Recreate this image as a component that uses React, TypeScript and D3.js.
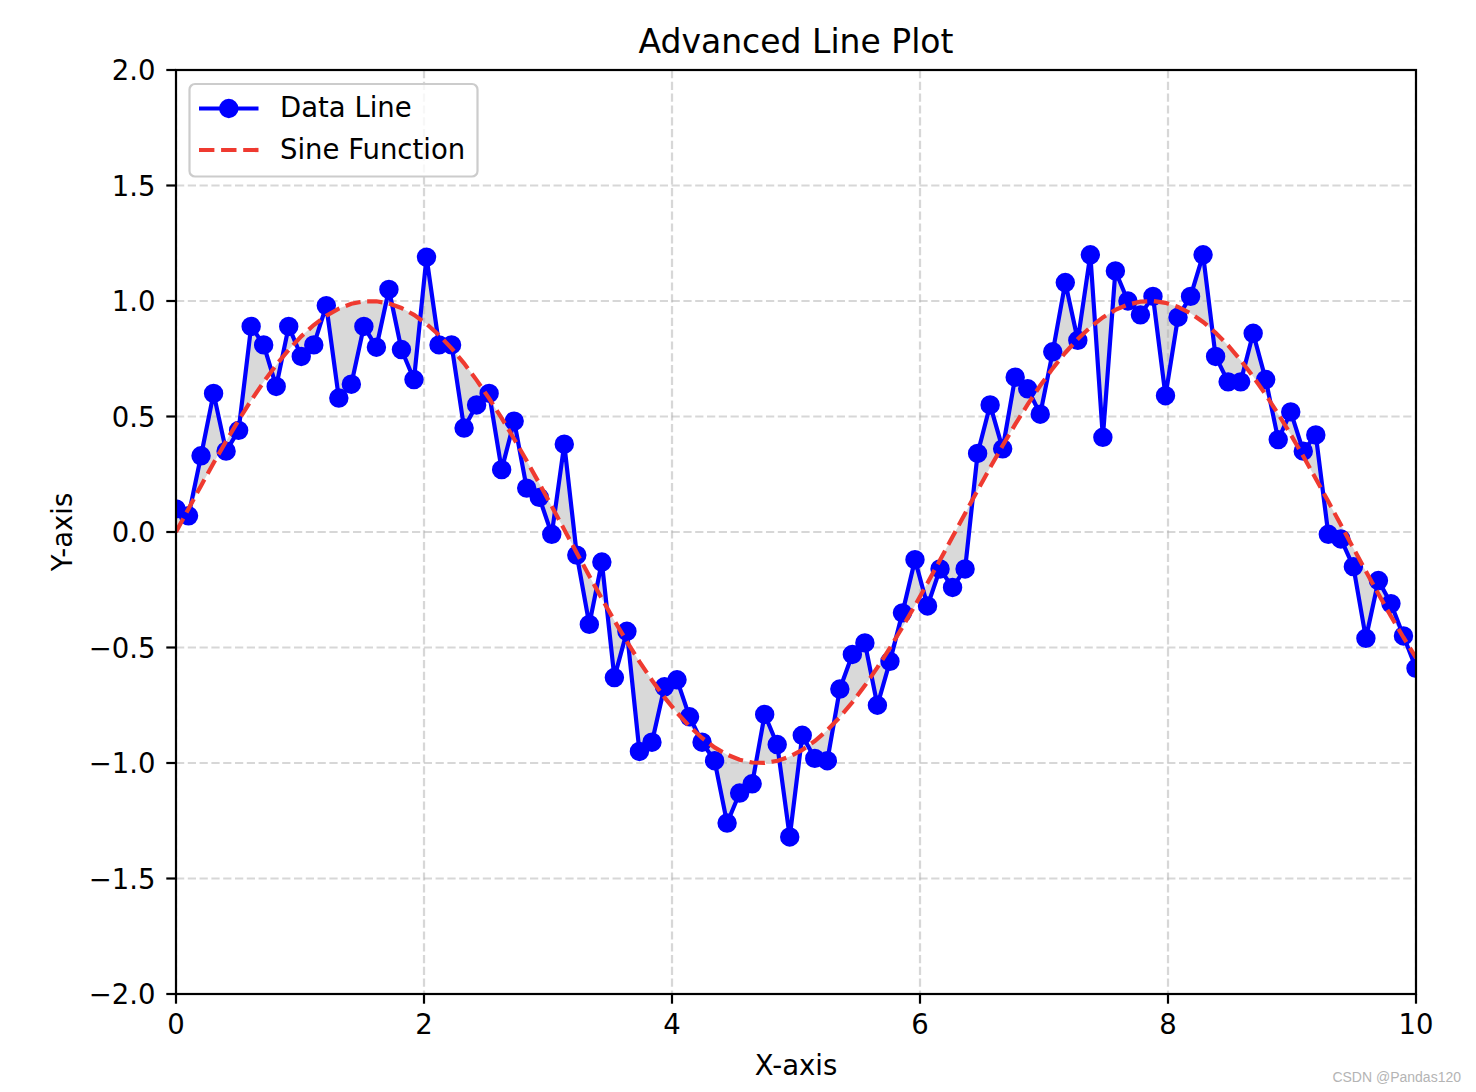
import React from "react";
import * as d3 from "d3";

const N = 100;
const xValues = d3.range(N).map((i) => (i * 10) / (N - 1));

const dataValues = [
  0.10, 0.07, 0.33, 0.60, 0.35, 0.44, 0.89, 0.81, 0.63, 0.89,
  0.76, 0.81, 0.98, 0.58, 0.64, 0.89, 0.80, 1.05, 0.79, 0.66,
  1.19, 0.81, 0.81, 0.45, 0.55, 0.60, 0.27, 0.48, 0.19, 0.15,
  -0.01, 0.38, -0.10, -0.40, -0.13, -0.63, -0.43, -0.95, -0.91, -0.67,
  -0.64, -0.80, -0.91, -0.99, -1.26, -1.13, -1.09, -0.79, -0.92, -1.32,
  -0.88, -0.98, -0.99, -0.68, -0.53, -0.48, -0.75, -0.56, -0.35, -0.12,
  -0.32, -0.16, -0.24, -0.16, 0.34, 0.55, 0.36, 0.67, 0.62, 0.51,
  0.78, 1.08, 0.83, 1.20, 0.41, 1.13, 1.00, 0.94, 1.02, 0.59,
  0.93, 1.02, 1.20, 0.76, 0.65, 0.65, 0.86, 0.66, 0.40, 0.52,
  0.35, 0.42, -0.01, -0.03, -0.15, -0.46, -0.21, -0.31, -0.45, -0.59,
];

const sineValues = [
  0.0, 0.1008, 0.2006, 0.2984, 0.3931, 0.4839, 0.5696, 0.6496, 0.723, 0.7891,
  0.8469, 0.8961, 0.9365, 0.9671, 0.9879, 0.9985, 0.999, 0.9893, 0.9696, 0.9401,
  0.9008, 0.8522, 0.7952, 0.7302, 0.6575, 0.5782, 0.4929, 0.4026, 0.3083, 0.211,
  0.1111, 0.0103, -0.0906, -0.1906, -0.2885, -0.3837, -0.4749, -0.5612, -0.6418, -0.7158,
  -0.7826, -0.8414, -0.8915, -0.9326, -0.9642, -0.9862, -0.9979, -0.9994, -0.9908, -0.972,
  -0.9434, -0.9051, -0.8577, -0.8015, -0.7371, -0.6651, -0.5864, -0.5017, -0.4118, -0.3179,
  -0.2208, -0.1213, -0.0206, 0.0803, 0.1804, 0.2787, 0.3741, 0.4658, 0.5525, 0.6339,
  0.7085, 0.7761, 0.8358, 0.8869, 0.929, 0.9616, 0.9844, 0.9971, 0.9997, 0.9921,
  0.9744, 0.9468, 0.9095, 0.8629, 0.8076, 0.7439, 0.6727, 0.5947, 0.5107, 0.4217,
  0.3277, 0.2308, 0.1316, 0.0309, -0.07, -0.1704, -0.2688, -0.3646, -0.4566, -0.544,
];

const xTicks = [0, 2, 4, 6, 8, 10];
const yTicks = [-2.0, -1.5, -1.0, -0.5, 0.0, 0.5, 1.0, 1.5, 2.0];

const W = 1476;
const H = 1092;
const L = 176, R = 1416, T = 70, B = 994;
const FONT = "'DejaVu Sans', sans-serif";
const FS = 27.5;
const BLUE = "#0000ff";
const RED = "#ef3a30";

function fmtY(v: number) {
  const s = Math.abs(v).toFixed(1);
  return v < 0 ? "\u2212" + s : s;
}

export default function App() {
  const x = d3.scaleLinear().domain([0, 10]).range([L, R]);
  const y = d3.scaleLinear().domain([-2, 2]).range([B, T]);

  const dataPts = xValues.map((xv, i) => [x(xv), y(dataValues[i])] as [number, number]);
  const sinePts = xValues.map((xv, i) => [x(xv), y(sineValues[i])] as [number, number]);

  const line = d3.line();
  const dataPath = line(dataPts) || "";
  const sinePath = line(sinePts) || "";
  const fillPath = line([...dataPts, ...sinePts.slice().reverse()]) + "Z";

  const tickLen = 9.7;
  const lw = 2.2;

  return (
    <svg
      width={W}
      height={H}
      style={{ position: "absolute", left: 0, top: 0, background: "#fff" }}
      fontFamily={FONT}
    >
      <defs>
        <clipPath id="plotClip">
          <rect x={L} y={T} width={R - L} height={B - T} />
        </clipPath>
      </defs>
      <rect x={0} y={0} width={W} height={H} fill="#fff" />

      <g clipPath="url(#plotClip)">
        <path d={fillPath} fill="#808080" fillOpacity={0.3} stroke="none" />
        {xTicks.map((t) => (
          <line key={"gx" + t} x1={x(t)} x2={x(t)} y1={T} y2={B} stroke="#b0b0b0" strokeOpacity={0.5}
            strokeWidth={2.2} strokeDasharray="8.2 3.6" />
        ))}
        {yTicks.map((t) => (
          <line key={"gy" + t} x1={L} x2={R} y1={y(t)} y2={y(t)} stroke="#b0b0b0" strokeOpacity={0.5}
            strokeWidth={2.2} strokeDasharray="8.2 3.6" />
        ))}
        <path d={dataPath} fill="none" stroke={BLUE} strokeWidth={4.2} strokeLinejoin="round" />
        {dataPts.map((p, i) => (
          <circle key={i} cx={p[0]} cy={p[1]} r={8.33} fill={BLUE} stroke={BLUE} strokeWidth={2.78} />
        ))}
        <path d={sinePath} fill="none" stroke={RED} strokeWidth={4.2} strokeDasharray="15.4 6.7" />
      </g>

      {/* axes frame */}
      <rect x={L} y={T} width={R - L} height={B - T} fill="none" stroke="#000" strokeWidth={lw} />

      {xTicks.map((t) => (
        <g key={"xt" + t}>
          <line x1={x(t)} x2={x(t)} y1={B} y2={B + tickLen} stroke="#000" strokeWidth={lw} />
          <text x={x(t)} y={B + 40} fontSize={FS} textAnchor="middle" fill="#000">{t}</text>
        </g>
      ))}
      {yTicks.map((t) => (
        <g key={"yt" + t}>
          <line x1={L - tickLen} x2={L} y1={y(t)} y2={y(t)} stroke="#000" strokeWidth={lw} />
          <text x={L - 2 * tickLen - 1} y={y(t) + 10} fontSize={FS} textAnchor="end" fill="#000">{fmtY(t)}</text>
        </g>
      ))}

      <text x={(L + R) / 2} y={53.3} fontSize={33} textAnchor="middle" fill="#000">Advanced Line Plot</text>
      <text x={(L + R) / 2} y={1075} fontSize={FS} textAnchor="middle" fill="#000">X-axis</text>
      <text transform={`translate(72, ${(T + B) / 2}) rotate(-90)`} fontSize={FS} textAnchor="middle" fill="#000">Y-axis</text>

      {/* legend */}
      <g>
        <rect x={189.5} y={84} width={288} height={92.5} rx={5.5} fill="#fff" fillOpacity={0.8}
          stroke="#cccccc" strokeWidth={2.2} />
        <line x1={199} x2={258.5} y1={108.5} y2={108.5} stroke={BLUE} strokeWidth={4.2} />
        <circle cx={228.8} cy={108.5} r={8.33} fill={BLUE} stroke={BLUE} strokeWidth={2.78} />
        <text x={280} y={117} fontSize={FS} fill="#000">Data Line</text>
        <line x1={199} x2={258.5} y1={150} y2={150} stroke={RED} strokeWidth={4.2} strokeDasharray="15.4 6.7" />
        <text x={280} y={159} fontSize={FS} fill="#000">Sine Function</text>
      </g>

      <text x={1461} y={1082} fontSize={14} textAnchor="end" fill="#b4b4b4"
        fontFamily="'Liberation Sans', Arial, sans-serif">CSDN @Pandas120</text>
    </svg>
  );
}
